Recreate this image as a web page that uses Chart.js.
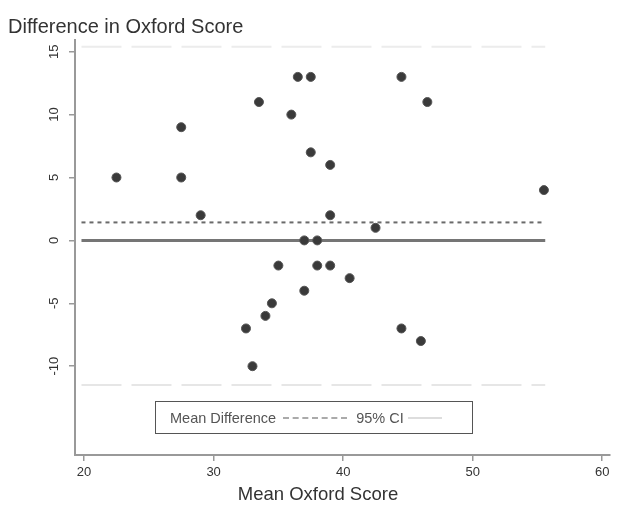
<!DOCTYPE html>
<html>
<head>
<meta charset="utf-8">
<script src="https://cdn.jsdelivr.net/npm/chart.js@4.4.1/dist/chart.umd.min.js"></script>
<style>
    body { margin: 0; background: #fff; }
    #wrap { position: relative; width: 622px; height: 511px; }
    #legend {
        position: absolute; left: 155px; top: 401px; width: 318px; height: 33px;
        border: 1px solid #555; box-sizing: border-box;
        font: 14.5px "Liberation Sans", Arial, sans-serif; color: #555;
        display: flex; align-items: center;
    }
    #legend .txt { margin-left: 14px; white-space: nowrap; }
    #legend .dash { width: 64px; margin-left: 7px; border-top: 2px dashed #aaa; }
    #legend .ci { width: 34px; margin-left: 4px; border-top: 2px solid #ddd; }
    #xtitle {
        position: absolute; left: 0; top: 484px; width: 636px; text-align: center;
        font: 18.5px "Liberation Sans", Arial, sans-serif; color: #333; line-height: 20px;
    }
</style>
</head>
<body>
<div id="wrap">
    <canvas id="chart" width="622" height="511"></canvas>
    <div id="legend">
        <span class="txt">Mean Difference</span><span class="dash"></span>
        <span class="txt" style="margin-left:9px">95% CI</span><span class="ci"></span>
    </div>
    <div id="xtitle">Mean Oxford Score</div>
</div>
<script>
// Mean of the two scores (x) and their difference (y)
const meanScore = [22.5, 27.5, 27.5, 29, 33.5, 36, 36.5, 37.5, 37.5, 39, 39, 44.5, 46.5, 55.5,
    42.5, 37, 38, 35, 38, 39, 40.5, 37, 34.5, 34, 32.5, 33, 44.5, 46];
const diffScore = [5, 9, 5, 2, 11, 10, 13, 13, 7, 6, 2, 13, 11, 4,
    1, 0, 0, -2, -2, -2, -3, -4, -5, -6, -7, -10, -7, -8];

// Reference lines
const lineX = [19.8, 55.6];
const zeroLine = 0;
const meanDiff = 1.43;
const ciUpper = 15.4;
const ciLower = -11.5;

const xTicks = [20, 30, 40, 50, 60];
const yTicks = [-10, -5, 0, 5, 10, 15];

const hline = (y) => lineX.map(x => ({ x: x, y: y }));

const ctx = document.getElementById('chart').getContext('2d');
new Chart(ctx, {
    type: 'scatter',
    data: {
        datasets: [
            {
                label: 'Difference',
                data: meanScore.map((m, i) => ({ x: m, y: diffScore[i] })),
                backgroundColor: '#3a3a3a',
                borderColor: '#555',
                borderWidth: 1,
                pointRadius: 4.5
            },
            {
                label: 'Zero',
                data: hline(zeroLine),
                showLine: true,
                borderColor: '#757575',
                borderWidth: 3,
                pointRadius: 0
            },
            {
                label: 'Mean Difference',
                data: hline(meanDiff),
                showLine: true,
                borderColor: '#6a6a6a',
                borderWidth: 2,
                borderDash: [4, 4],
                pointRadius: 0
            },
            {
                label: '95% CI upper',
                data: hline(ciUpper),
                showLine: true,
                borderColor: '#ececec',
                borderWidth: 2,
                borderDash: [40, 10],
                pointRadius: 0
            },
            {
                label: '95% CI lower',
                data: hline(ciLower),
                showLine: true,
                borderColor: '#e6e6e6',
                borderWidth: 2,
                borderDash: [40, 10],
                pointRadius: 0
            }
        ]
    },
    options: {
        responsive: false,
        animation: false,
        layout: { padding: { left: 8, right: 12, top: 0, bottom: 0 } },
        plugins: {
            legend: { display: false },
            tooltip: { enabled: false },
            title: {
                display: true,
                text: 'Difference in Oxford Score',
                align: 'start',
                color: '#333',
                font: { family: 'Liberation Sans', size: 20, weight: 'normal' },
                padding: { top: 15, bottom: 1.4 }
            }
        },
        scales: {
            x: {
                type: 'linear',
                min: 19.3,
                max: 60.6,
                afterBuildTicks: (scale) => { scale.ticks = xTicks.map(v => ({ value: v })); },
                afterFit: (scale) => { scale.height = 56; },
                grid: { drawOnChartArea: false, tickLength: 6, color: '#999', lineWidth: 1.5 },
                border: { color: '#999', width: 2 },
                ticks: {
                    color: '#333',
                    padding: 4,
                    maxRotation: 0,
                    font: { family: 'Liberation Sans', size: 13 }
                }
            },
            y: {
                type: 'linear',
                min: -17.06,
                max: 15.9,
                afterBuildTicks: (scale) => { scale.ticks = yTicks.map(v => ({ value: v })); },
                afterFit: (scale) => { scale.width = 67; },
                grid: { drawOnChartArea: false, tickLength: 6, color: '#999', lineWidth: 1.5 },
                border: { color: '#999', width: 2 },
                ticks: {
                    color: '#333',
                    padding: 5,
                    minRotation: 90,
                    maxRotation: 90,
                    crossAlign: 'center',
                    font: { family: 'Liberation Sans', size: 13 }
                }
            }
        }
    }
});
</script>
</body>
</html>
